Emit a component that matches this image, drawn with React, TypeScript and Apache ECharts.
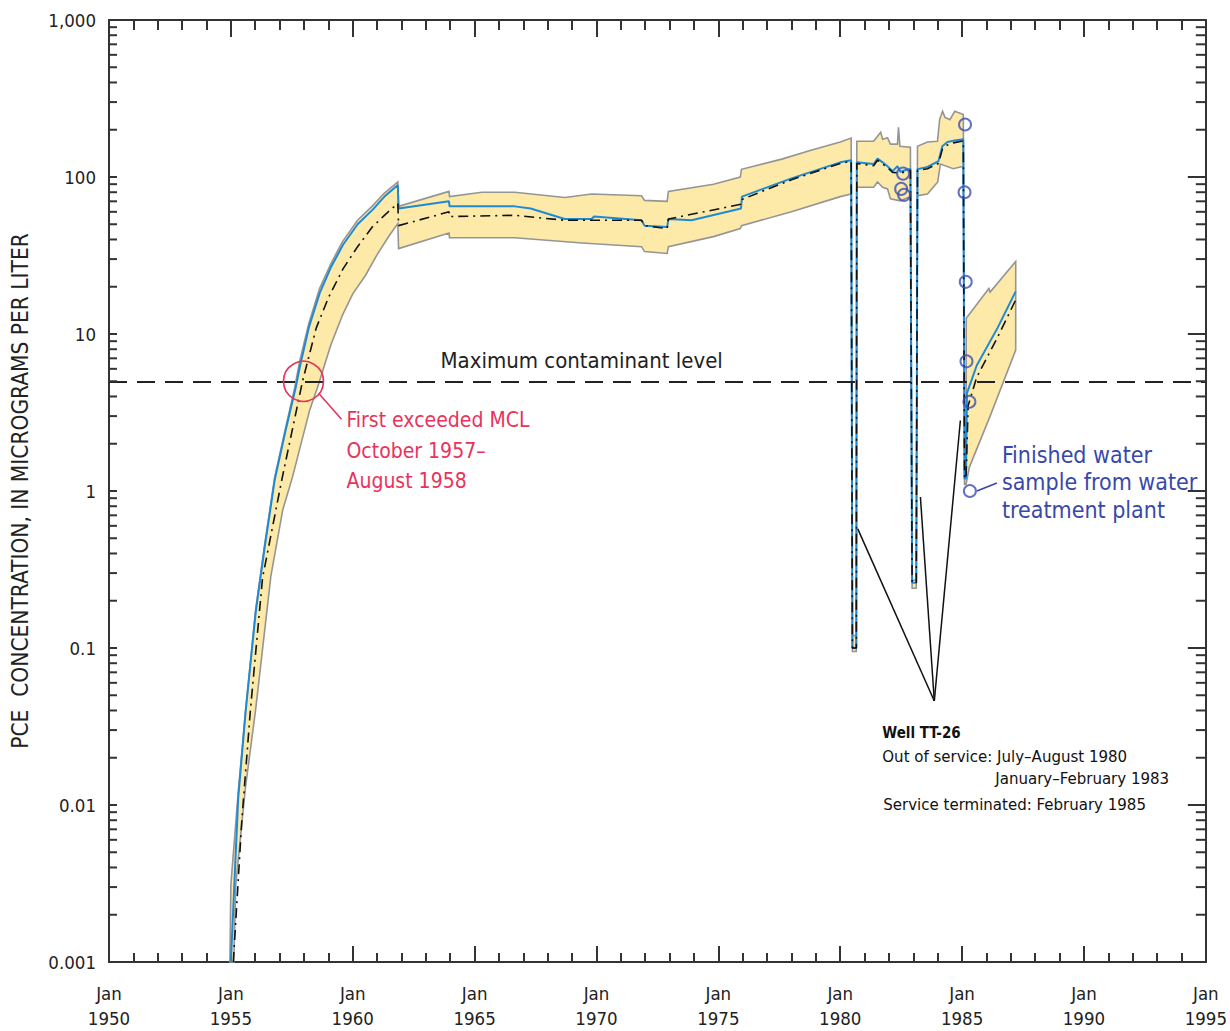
import React, { useEffect, useRef } from "react";
import * as echarts from "echarts";

// ---------------- data ----------------
const xTickYears = [1950, 1955, 1960, 1965, 1970, 1975, 1980, 1985, 1990, 1995];
const yTickLabels = ["0.001", "0.01", "0.1", "1", "10", "100", "1,000"];
const yDecades = [-3, -2, -1, 0, 1, 2];
const yMinorMultipliers = [2, 3, 4, 5, 6, 7, 8, 9];

const mclValue = 5;

// upper bound of simulated range
const upperYears = [
  1954.96, 1955.0, 1955.3, 1955.61, 1956.02, 1956.39, 1956.8, 1957.25, 1957.62, 1957.82, 1958.2, 1958.64, 1959.1,
  1959.58, 1960.2, 1960.81, 1961.3, 1961.85,
  1961.88, 1963.95, 1963.97, 1965.3, 1966.65, 1968.7, 1969.8, 1971.85, 1971.97, 1972.9, 1972.95, 1974.8, 1975.9, 1975.95,
  1977.6, 1978.8, 1980.0, 1980.45, 1980.5, 1980.66, 1980.68, 1981.37, 1981.53, 1981.66, 1981.74, 1981.94, 1982.06, 1982.35,
  1982.39, 1982.45, 1982.88, 1982.95, 1983.12, 1983.17, 1983.58, 1983.99, 1984.08, 1984.2, 1984.3, 1984.5, 1984.7,
  1985.05, 1985.1, 1985.16, 1985.17, 1986.1, 1986.15, 1987.2,
];
const upperValues = [
  0.001, 0.0031, 0.012, 0.041, 0.177, 0.46, 1.23, 2.54, 4.55, 6.7, 11.7, 19.5, 28,
  38.8, 53, 65.5, 79, 93,
  65, 81, 75, 80, 80, 74, 78, 76, 71, 70, 81, 90, 100, 112,
  130, 148, 167, 177, 0.12, 0.12, 169, 169, 182, 193, 174, 178, 162, 162,
  207, 157, 155, 0.27, 0.27, 157, 167, 169, 233, 262, 240, 232, 262,
  250, 1.3, 1.3, 12.6, 19.5, 18.5, 29,
];

// lower bound of simulated range
const lowerYears = [
  1955.12, 1955.2, 1955.6, 1956.02, 1956.64, 1957.13, 1957.53, 1958.23, 1958.6, 1959.1, 1959.58, 1960.0, 1960.52,
  1961.0, 1961.5, 1961.85,
  1961.88, 1963.95, 1963.97, 1966.65, 1969.4, 1971.85, 1971.97, 1972.9, 1972.95, 1974.8, 1975.9, 1975.95,
  1978.0, 1980.0, 1980.45, 1980.5, 1980.66, 1980.68, 1981.37, 1981.53, 1981.74, 1981.94, 1982.06, 1982.47,
  1982.88, 1982.95, 1983.12, 1983.17, 1983.58, 1984.0, 1984.11, 1984.64, 1985.05, 1985.1, 1985.16, 1985.3,
  1986.15, 1987.2,
];
const lowerValues = [
  0.001, 0.0031, 0.013, 0.041, 0.286, 0.76, 1.23, 3.26, 4.8, 8.5, 13.2, 18, 23.6,
  32, 42.4, 50.5,
  35, 44, 41, 41, 38, 36, 33.5, 32.6, 36, 41.7, 47, 49,
  60, 75, 78, 0.095, 0.095, 86, 86, 93, 86, 84, 72.6, 70.5,
  75, 0.24, 0.24, 76, 78, 93, 121, 113, 117, 1.1, 1.1, 1.42,
  3.0, 7.9,
];

// simulated (blue solid)
const blueYears = [
  1955.0, 1955.3, 1955.61, 1956.02, 1956.39, 1956.8, 1957.25, 1957.65, 1957.85, 1958.2, 1958.66, 1959.1, 1959.6,
  1960.2, 1960.82, 1961.3, 1961.85,
  1961.88, 1963.95, 1963.97, 1966.65, 1967.3, 1968.7, 1969.8, 1969.9, 1971.85, 1971.97, 1972.9, 1972.95, 1973.9,
  1975.93, 1975.97, 1978.0, 1980.0, 1980.45, 1980.5, 1980.66, 1980.68, 1981.37, 1981.53, 1981.74, 1981.94,
  1982.15, 1982.35, 1982.47, 1982.88, 1982.95, 1983.12, 1983.17, 1983.58, 1984.03, 1984.19, 1984.4, 1984.64,
  1985.05, 1985.1, 1985.16, 1985.2, 1985.6, 1986.45, 1987.2,
];
const blueValues = [
  0.001, 0.011, 0.04, 0.17, 0.44, 1.18, 2.45, 4.5, 6.4, 11, 18.5, 26.5, 37,
  50, 62, 75, 89,
  63, 70, 65, 65, 63, 54, 54, 56, 53, 49, 48, 54, 53,
  63, 75, 98, 124, 128, 0.1, 0.1, 124, 121, 131, 124, 117,
  109, 117, 108, 113, 0.26, 0.26, 112, 116, 126, 157, 167, 170,
  174, 1.2, 1.2, 4.2, 6.3, 10.9, 18.7,
];

// alternate simulation (black dash-dot)
const dashYears = [
  1955.1, 1955.45, 1955.8, 1956.3, 1957.1, 1957.94, 1958.5, 1959.0, 1959.6, 1960.2, 1960.8, 1961.3, 1961.85,
  1961.88, 1963.95, 1963.97, 1966.65, 1968.7, 1971.85, 1971.97, 1972.9, 1972.95, 1975.93, 1975.97, 1978.0,
  1980.0, 1980.45, 1980.5, 1980.66, 1980.68, 1981.37, 1981.53, 1981.74, 1981.94, 1982.15, 1982.47, 1982.88,
  1982.95, 1983.12, 1983.17, 1983.58, 1984.03, 1984.19, 1984.4, 1984.64, 1985.05, 1985.1, 1985.16, 1985.25,
  1985.6, 1986.45, 1987.2,
];
const dashValues = [
  0.001, 0.008, 0.04, 0.28, 1.2, 5, 10.9, 17, 26, 36, 48, 57, 68,
  49, 60, 56, 57, 53, 53, 49, 47, 54, 67, 72, 96,
  122, 126, 0.1, 0.1, 122, 118, 128, 121, 115, 107, 106, 110,
  0.26, 0.26, 110, 113, 122, 150, 160, 165, 170, 1.2, 1.2, 3.5,
  5.3, 9.5, 16.5,
];

// finished water samples
const obsYears = [1982.5, 1982.58, 1982.62, 1985.12, 1985.1, 1985.15, 1985.18, 1985.3, 1985.32];
const obsValues = [84, 105, 77, 216, 80, 21.5, 6.7, 3.7, 1.0];

// annotation anchors (data coords)
const mclCrossing = [1957.98, 5];
const mclLabelAnchor = [1963.6, 5];
const wellPointerTip = [1983.86, 0.046];
const wellPointerTargets = [
  [1980.72, 0.574],
  [1983.29, 0.916],
  [1984.93, 2.81],
];
const finishedSample = [1985.32, 1.0];

// ---------------- styles ----------------
const NARROW = "'Liberation Sans Narrow', 'Arial Narrow', 'DejaVu Sans Condensed', 'Roboto', sans-serif";
const AXIS = "#333333";
const RED = "#e8335c";
const BLUE_TXT = "#3848aa";

const zip = (xs: number[], ys: number[]) => xs.map((x, i) => [x, ys[i]]);

export default function App() {
  const ref = useRef<HTMLDivElement>(null);

  useEffect(() => {
    document.body.style.margin = "0";
    if (!ref.current) return;
    const chart = echarts.init(ref.current, undefined, { renderer: "svg" });

    const yMinor: number[][] = [];
    yDecades.forEach((d) => yMinorMultipliers.forEach((m) => yMinor.push([m * Math.pow(10, d)])));

    const xAxisCommon = {
      type: "value",
      min: xTickYears[0],
      max: xTickYears[xTickYears.length - 1],
      interval: 5,
      splitLine: { show: false },
      minorSplitLine: { show: false },
      axisLine: { show: true, onZero: false, lineStyle: { color: AXIS, width: 2 } },
    };
    const yAxisCommon = {
      type: "log",
      logBase: 10,
      min: 0.001,
      max: 1000,
      splitNumber: 6,
      splitLine: { show: false },
      axisLine: { show: true, lineStyle: { color: AXIS, width: 2 } },
    };

    const option: any = {
      animation: false,
      backgroundColor: "#ffffff",
      grid: { left: 104, right: 22, top: 20, bottom: 63, containLabel: false },
      xAxis: [
        {
          ...xAxisCommon,
          position: "bottom",
          axisTick: { show: true, inside: true, length: 16, lineStyle: { color: AXIS, width: 2 } },
          minorTick: { show: true, splitNumber: 5, length: 9, lineStyle: { color: AXIS, width: 2 } },
          axisLabel: {
            show: true,
            margin: 19,
            color: "#222",
            fontFamily: NARROW,
            fontSize: 18.5,
            lineHeight: 25,
            formatter: (v: number) => `Jan\n${Math.round(v)}`,
          },
        },
        {
          ...xAxisCommon,
          position: "top",
          axisTick: { show: true, inside: true, length: 17, lineStyle: { color: AXIS, width: 2 } },
          minorTick: { show: true, splitNumber: 5, length: 10, lineStyle: { color: AXIS, width: 2 } },
          axisLabel: { show: false },
        },
      ],
      yAxis: [
        {
          ...yAxisCommon,
          position: "left",
          axisTick: { show: true, inside: true, length: 8, lineStyle: { color: AXIS, width: 2 } },
          axisLabel: {
            show: true,
            margin: 13,
            color: "#222",
            fontFamily: NARROW,
            fontSize: 18.5,
            formatter: (v: number) => yTickLabels[Math.round(Math.log10(v)) + 3],
          },
          name: "PCE  CONCENTRATION, IN MICROGRAMS PER LITER",
          nameLocation: "middle",
          nameGap: 78,
          nameRotate: 90,
          nameTextStyle: { fontFamily: NARROW, fontSize: 22.5, color: "#222" },
        },
        {
          ...yAxisCommon,
          position: "right",
          axisTick: { show: true, inside: true, length: 18, lineStyle: { color: AXIS, width: 2 } },
          axisLabel: { show: false },
        },
      ],
      series: [
        {
          name: "range",
          type: "custom",
          xAxisIndex: 0,
          yAxisIndex: 0,
          data: [[0]],
          silent: true,
          z: 1,
          renderItem: (params: any, api: any) => {
            const pts: number[][] = [];
            upperYears.forEach((x, i) => pts.push(api.coord([x, upperValues[i]])));
            for (let i = lowerYears.length - 1; i >= 0; i--) pts.push(api.coord([lowerYears[i], lowerValues[i]]));
            return {
              type: "polygon",
              shape: { points: pts },
              style: { fill: "#fde9a8", stroke: "#959595", lineWidth: 1.6 },
            };
          },
        },
        {
          name: "yMinorTicks",
          type: "custom",
          xAxisIndex: 0,
          yAxisIndex: 0,
          data: yMinor,
          silent: true,
          z: 5,
          renderItem: (params: any, api: any) => {
            const v = api.value(0);
            const pL = api.coord([xTickYears[0], v]);
            const pR = api.coord([xTickYears[xTickYears.length - 1], v]);
            return {
              type: "group",
              children: [
                { type: "line", shape: { x1: pL[0], y1: pL[1], x2: pL[0] + 8, y2: pL[1] }, style: { stroke: AXIS, lineWidth: 2 } },
                { type: "line", shape: { x1: pR[0], y1: pR[1], x2: pR[0] - 10, y2: pR[1] }, style: { stroke: AXIS, lineWidth: 2 } },
              ],
            };
          },
        },
        {
          name: "simulated",
          type: "line",
          data: zip(blueYears, blueValues),
          showSymbol: false,
          symbol: "none",
          lineStyle: { color: "#1f8ad4", width: 2 },
          z: 3,
          markLine: {
            silent: true,
            symbol: "none",
            label: { show: false },
            lineStyle: { color: "#222", width: 2, type: [18, 10] },
            data: [{ yAxis: mclValue }],
          },
        },
        {
          name: "alternate",
          type: "line",
          data: zip(dashYears, dashValues),
          showSymbol: false,
          symbol: "none",
          lineStyle: { color: "#111", width: 1.6, type: [10, 5, 2, 5] },
          z: 4,
        },
        {
          name: "samples",
          type: "scatter",
          data: zip(obsYears, obsValues),
          symbol: "circle",
          symbolSize: 12,
          itemStyle: { color: "rgba(255,255,255,0)", borderColor: "#3c4fb3", borderWidth: 2 },
          z: 6,
        },
        {
          name: "annotations",
          type: "custom",
          data: [[0]],
          silent: true,
          z: 7,
          clip: false,
          renderItem: (params: any, api: any) => {
            const c = api.coord(mclCrossing);
            const m = api.coord(mclLabelAnchor);
            const tip = api.coord(wellPointerTip);
            const fs = api.coord(finishedSample);
            const txt = (text: string, x: number, y: number, fill: string, size: number, weight = "normal", align = "left") => ({
              type: "text",
              x,
              y,
              style: {
                text,
                fill,
                fontFamily: NARROW,
                fontSize: size,
                fontWeight: weight,
                textAlign: align,
                textVerticalAlign: "middle",
                align,
                verticalAlign: "middle",
              },
            });
            const children: any[] = [
              txt("Maximum contaminant level", m[0], m[1] - 21, "#222", 22),
              { type: "circle", shape: { cx: c[0], cy: c[1], r: 20 }, style: { fill: "none", stroke: RED, lineWidth: 1.6 } },
              { type: "line", shape: { x1: c[0] + 16, y1: c[1] + 13, x2: c[0] + 38, y2: c[1] + 38 }, style: { stroke: RED, lineWidth: 1.6 } },
              txt("First exceeded MCL", c[0] + 43, c[1] + 39, RED, 21),
              txt("October 1957–", c[0] + 43, c[1] + 70, RED, 21),
              txt("August 1958", c[0] + 43, c[1] + 100, RED, 21),
              { type: "line", shape: { x1: fs[0] + 7, y1: fs[1], x2: fs[0] + 27, y2: fs[1] - 8 }, style: { stroke: BLUE_TXT, lineWidth: 1.6 } },
              txt("Finished water", fs[0] + 32, fs[1] - 36, BLUE_TXT, 23),
              txt("sample from water", fs[0] + 32, fs[1] - 9, BLUE_TXT, 23),
              txt("treatment plant", fs[0] + 32, fs[1] + 19, BLUE_TXT, 23),
              txt("Well TT-26", tip[0] - 52, tip[1] + 32, "#111", 15, "bold"),
              txt("Out of service: July–August 1980", tip[0] - 52, tip[1] + 55, "#111", 16.7),
              txt("January–February 1983", tip[0] + 61, tip[1] + 77, "#111", 16.7),
              txt("Service terminated: February 1985", tip[0] - 51, tip[1] + 103, "#111", 16.7),
            ];
            wellPointerTargets.forEach((t) => {
              const p = api.coord(t);
              children.push({ type: "line", shape: { x1: tip[0], y1: tip[1], x2: p[0], y2: p[1] }, style: { stroke: "#111", lineWidth: 1.5 } });
            });
            return { type: "group", children };
          },
        },
      ],
    };

    chart.setOption(option);
    return () => chart.dispose();
  }, []);

  return <div ref={ref} style={{ width: 1230, height: 1031 }} />;
}
